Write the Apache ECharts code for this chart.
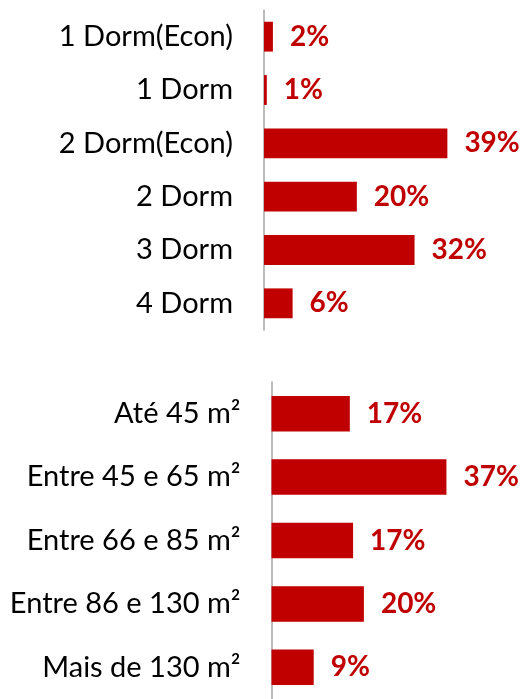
<!DOCTYPE html>
<html>
<head>
<meta charset="utf-8">
<script src="https://cdn.jsdelivr.net/npm/echarts@6/dist/echarts.min.js"></script>
<style>
  html, body { margin: 0; padding: 0; background: #fff; }
  #chart { width: 523px; height: 699px; }
</style>
</head>
<body>
<div id="chart"></div>
<script>
// top block: unit type share
const dormCats = ['1 Dorm(Econ)', '1 Dorm', '2 Dorm(Econ)', '2 Dorm', '3 Dorm', '4 Dorm'];
const dormShare = [1.9, 0.6, 39.1, 19.8, 32.1, 6.1];

// bottom block: unit area share
const areaCats = ['Até 45 m²', 'Entre 45 e 65 m²', 'Entre 66 e 85 m²', 'Entre 86 e 130 m²', 'Mais de 130 m²'];
const areaShare = [16.7, 37.3, 17.4, 19.7, 9.0];

const RED = '#c00000';
const FONT = 'Lato, "Open Sans", sans-serif';

const chart = echarts.init(document.getElementById('chart'));

const yAxisBase = {
    type: 'category',
    inverse: true,
    axisTick: { show: false },
    axisLine: { show: true, lineStyle: { color: '#a6a6a6', width: 1.5 } },
    axisLabel: { color: '#000', fontSize: 29, fontFamily: FONT, margin: 31 }
};

const xAxisBase = {
    type: 'value',
    min: 0,
    max: 50,
    show: false
};

const seriesBase = {
    type: 'bar',
    barWidth: '56%',
    itemStyle: { color: RED },
    label: {
        show: true,
        position: 'right',
        distance: 17,
        color: RED,
        fontSize: 28,
        fontWeight: 'bold',
        fontFamily: FONT,
        formatter: p => Math.round(p.value) + '%'
    }
};

const option = {
    animation: false,
    grid: [
        { left: 264, top: 10, width: 234.5, height: 320 },
        { left: 271.5, top: 382, width: 234.5, height: 320 }
    ],
    xAxis: [
        Object.assign({ gridIndex: 0 }, xAxisBase),
        Object.assign({ gridIndex: 1 }, xAxisBase)
    ],
    yAxis: [
        Object.assign({ gridIndex: 0, data: dormCats }, yAxisBase),
        Object.assign({ gridIndex: 1, data: areaCats }, yAxisBase)
    ],
    series: [
        Object.assign({ name: 'Dorm', xAxisIndex: 0, yAxisIndex: 0, data: dormShare }, seriesBase),
        Object.assign({ name: 'Area', xAxisIndex: 1, yAxisIndex: 1, data: areaShare }, seriesBase)
    ]
};

chart.setOption(option);
</script>
</body>
</html>
